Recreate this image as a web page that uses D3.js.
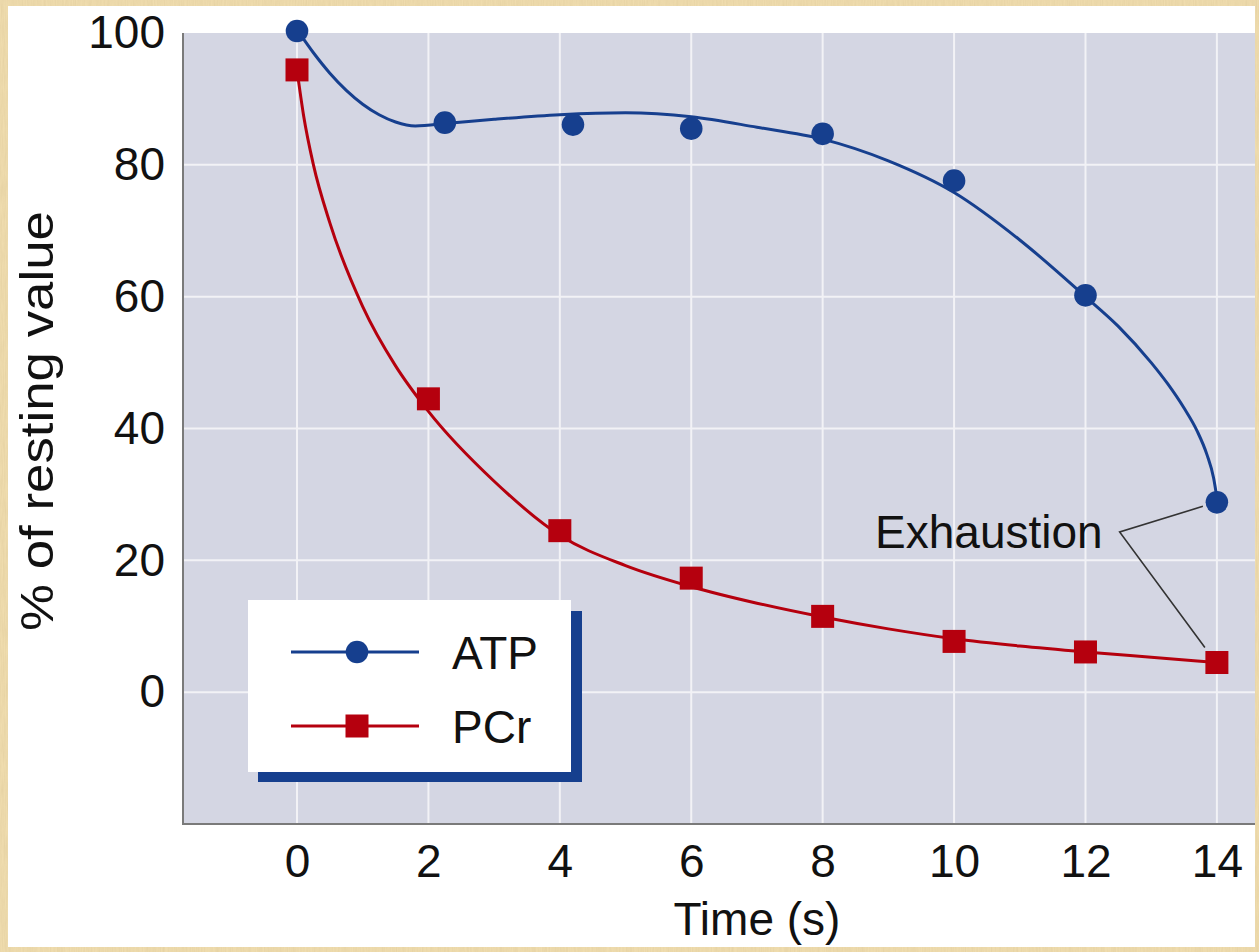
<!DOCTYPE html>
<html><head><meta charset="utf-8">
<script src="https://cdn.jsdelivr.net/npm/d3@7"></script>
<style>html,body{margin:0;padding:0;background:#efdcae;}svg{display:block;}</style>
</head><body>
<svg id="chart" width="1259" height="952"></svg>
<script>
// ---- data ----
const xTicks = [0, 2, 4, 6, 8, 10, 12, 14];
const yTicks = [0, 20, 40, 60, 80, 100];
const atpTime = [0, 2.25, 4.2, 6, 8, 10, 12, 14];
const atpValue = [100.3, 86.4, 86.1, 85.5, 84.7, 77.6, 60.2, 28.8];
const pcrTime = [0, 2, 4, 6, 8, 10, 12, 14];
const pcrValue = [94.4, 44.5, 24.5, 17.3, 11.5, 7.7, 6.1, 4.5];
// fitted curves
const atpFitTime  = [0, 0.25, 0.5, 0.75, 1, 1.25, 1.5, 1.8, 2.3, 3, 4, 5, 6, 7, 8, 9, 10, 11, 12, 12.5, 13, 13.25, 13.5, 13.7, 13.85, 13.95, 14];
const atpFitValue = [100.5, 97, 93.9, 91.3, 89.2, 87.6, 86.5, 85.9, 86.3, 86.9, 87.6, 87.9, 87.3, 85.7, 83.9, 80.6, 75.8, 68.6, 60, 55.5, 50, 46.8, 43.1, 39.6, 36, 32.5, 29.5];
const pcrFitTime  = [0, 0.1, 0.25, 0.5, 1, 1.5, 2, 3, 4, 5, 6, 7, 8, 9, 10, 11, 12, 13, 14];
const pcrFitValue = [94.4, 87.5, 80, 71.2, 58.5, 49.5, 42.6, 32, 23.8, 19.2, 16, 13.5, 11.4, 9.6, 8.1, 7.0, 6.1, 5.3, 4.5];
const seriesNames = ["ATP", "PCr"];
const annotationText = "Exhaustion";
const xLabel = "Time (s)";
const yLabel = "% of resting value";

const BLUE = "#163f8e", RED = "#b5000e";
const FONT = "'Liberation Sans', Arial, Helvetica, sans-serif";

const svg = d3.select("#chart");

// parchment texture
const defs = svg.append("defs");
const f = defs.append("filter").attr("id", "paper").attr("x", 0).attr("y", 0).attr("width", "100%").attr("height", "100%");
f.append("feTurbulence").attr("type", "fractalNoise").attr("baseFrequency", "0.9 0.05").attr("numOctaves", 3).attr("seed", 4).attr("result", "n");
f.append("feColorMatrix").attr("in", "n").attr("type", "matrix")
  .attr("values", "0 0 0 0 0.55  0 0 0 0 0.42  0 0 0 0 0.2  0 0 0 0.6 -0.15");
svg.append("rect").attr("width", 1259).attr("height", 952).attr("fill", "#efdcae");
svg.append("rect").attr("width", 1259).attr("height", 952).attr("filter", "url(#paper)").attr("opacity", 0.5);

// white panel
svg.append("rect").attr("x", 8).attr("y", 6).attr("width", 1247).attr("height", 941).attr("fill", "#ffffff");

// scales
const plot = {left: 183, right: 1255, top: 33, bottom: 824};
const x = d3.scaleLinear().domain([-1.735, 14.58]).range([plot.left, plot.right]);
const y = d3.scaleLinear().domain([-20, 100]).range([824, 33]);

// plot background
svg.append("rect").attr("x", plot.left).attr("y", plot.top)
  .attr("width", plot.right - plot.left).attr("height", plot.bottom - plot.top).attr("fill", "#d4d6e3");

// grid
const grid = svg.append("g");
grid.selectAll(".gx").data(xTicks).join("line")
  .attr("x1", d => x(d)).attr("x2", d => x(d)).attr("y1", plot.top).attr("y2", plot.bottom)
  .attr("stroke", "#f2f2f6").attr("stroke-width", 2);
grid.selectAll(".gy").data(yTicks.filter(d => d < 100)).join("line")
  .attr("x1", plot.left).attr("x2", plot.right).attr("y1", d => y(d)).attr("y2", d => y(d))
  .attr("stroke", "#f2f2f6").attr("stroke-width", 2);

// axes (labels only) + axis lines
const yAxis = svg.append("g").attr("transform", `translate(${plot.left},0)`)
  .call(d3.axisLeft(y).tickValues(yTicks).tickSize(0).tickPadding(18));
const xAxis = svg.append("g").attr("transform", `translate(0,${plot.bottom})`)
  .call(d3.axisBottom(x).tickValues(xTicks).tickSize(0).tickPadding(20));
[yAxis, xAxis].forEach(a => {
  a.select(".domain").remove();
  a.selectAll("text").attr("font-family", FONT).attr("font-size", 46).attr("fill", "#111");
});
svg.append("line").attr("x1", plot.left).attr("x2", plot.left).attr("y1", plot.top).attr("y2", plot.bottom + 1)
  .attr("stroke", "#7a7a7a").attr("stroke-width", 2);
svg.append("line").attr("x1", plot.left).attr("x2", plot.right).attr("y1", plot.bottom).attr("y2", plot.bottom)
  .attr("stroke", "#7a7a7a").attr("stroke-width", 2);

// axis titles
svg.append("text").attr("x", x(7)).attr("y", 935).attr("text-anchor", "middle")
  .attr("font-family", FONT).attr("font-size", 46).attr("fill", "#111").text(xLabel);
svg.append("text").attr("transform", "translate(53,421) rotate(-90)").attr("text-anchor", "middle")
  .attr("font-family", FONT).attr("font-size", 46).attr("fill", "#111")
  .attr("textLength", 420).attr("lengthAdjust", "spacingAndGlyphs").text(yLabel);

// curves
const line = d3.line().x(d => x(d[0])).y(d => y(d[1])).curve(d3.curveMonotoneX);
svg.append("path").datum(atpFitTime.map((t, i) => [t, atpFitValue[i]]))
  .attr("d", line).attr("fill", "none").attr("stroke", BLUE).attr("stroke-width", 3);
svg.append("path").datum(pcrFitTime.map((t, i) => [t, pcrFitValue[i]]))
  .attr("d", line).attr("fill", "none").attr("stroke", RED).attr("stroke-width", 3);

// markers
svg.append("g").selectAll("circle").data(atpTime.map((t, i) => [t, atpValue[i]])).join("circle")
  .attr("cx", d => x(d[0])).attr("cy", d => y(d[1])).attr("r", 11.3).attr("fill", BLUE);
const S = 23;
svg.append("g").selectAll("rect").data(pcrTime.map((t, i) => [t, pcrValue[i]])).join("rect")
  .attr("x", d => x(d[0]) - S / 2).attr("y", d => y(d[1]) - S / 2).attr("width", S).attr("height", S).attr("fill", RED);

// annotation
const jx = x(12.52), jy = y(24.3);
const aLast = [x(atpTime[atpTime.length - 1]), y(atpValue[atpValue.length - 1])];
const pLast = [x(pcrTime[pcrTime.length - 1]), y(pcrValue[pcrValue.length - 1])];
svg.append("polyline")
  .attr("points", [[aLast[0] - 14, aLast[1] + 4], [jx, jy], [pLast[0] - 12, pLast[1] - 15]].map(p => p.join(",")).join(" "))
  .attr("fill", "none").attr("stroke", "#333").attr("stroke-width", 1.6);
svg.append("text").attr("x", jx - 17).attr("y", 548).attr("text-anchor", "end")
  .attr("font-family", FONT).attr("font-size", 46).attr("fill", "#111").text(annotationText);

// legend
const lg = svg.append("g").attr("transform", "translate(248,600)");
lg.append("rect").attr("x", 10).attr("y", 11).attr("width", 324).attr("height", 171).attr("fill", BLUE);
lg.append("rect").attr("x", 0).attr("y", 0).attr("width", 323).attr("height", 172).attr("fill", "#fff");
seriesNames.forEach((name, i) => {
  const yy = 52 + i * 74;
  const col = i === 0 ? BLUE : RED;
  lg.append("line").attr("x1", 43).attr("x2", 171).attr("y1", yy).attr("y2", yy).attr("stroke", col).attr("stroke-width", 3);
  if (i === 0) lg.append("circle").attr("cx", 109).attr("cy", yy).attr("r", 11.3).attr("fill", col);
  else lg.append("rect").attr("x", 109 - S / 2).attr("y", yy - S / 2).attr("width", S).attr("height", S).attr("fill", col);
  lg.append("text").attr("x", 204).attr("y", yy + 17).attr("font-family", FONT).attr("font-size", 46).attr("fill", "#111").text(name);
});
</script>
</body></html>
